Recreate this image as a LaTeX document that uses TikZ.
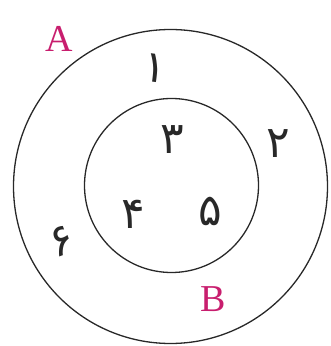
\documentclass[tikz,border=0pt]{standalone}
\usepackage{fontspec}
\setmainfont{Liberation Serif}
\newfontfamily\arabicfont[Script=Arabic]{DejaVu Sans}
\definecolor{setmag}{RGB}{200,30,110}
\definecolor{ringgray}{RGB}{40,40,40}
\tikzset{
  ring/.style={draw=ringgray, line width=1.3pt, circle, inner sep=0pt},
  setlabel/.style={text=setmag, font=\fontsize{38}{38}\selectfont, inner sep=0pt},
  digit/.style={text=ringgray, font=\arabicfont\fontsize{44}{44}\selectfont, inner sep=0pt}
}
\begin{document}
\begin{tikzpicture}[x=1pt,y=1pt]
\useasboundingbox (0,0) rectangle (331,346);
\node[ring, minimum size=314pt] (outer) at (170.5,159.5) {};
\node[ring, minimum size=174pt] (inner) at (171.5,160.5) {};
\node[setlabel] (la) at (59,307) {A};
\node[setlabel] (lb) at (213,47) {B};
\node[digit, rotate=-8] (d1) at (155,278) {۱};
\node[digit] (d2) at (278,202) {۲};
\node[digit] (d3) at (172,206) {۳};
\node[digit] (d4) at (133,132) {۴};
\node[digit] (d5) at (210,135) {۵};
\node[digit, rotate=20] (d6) at (62,105) {۶};
\end{tikzpicture}
\end{document}
